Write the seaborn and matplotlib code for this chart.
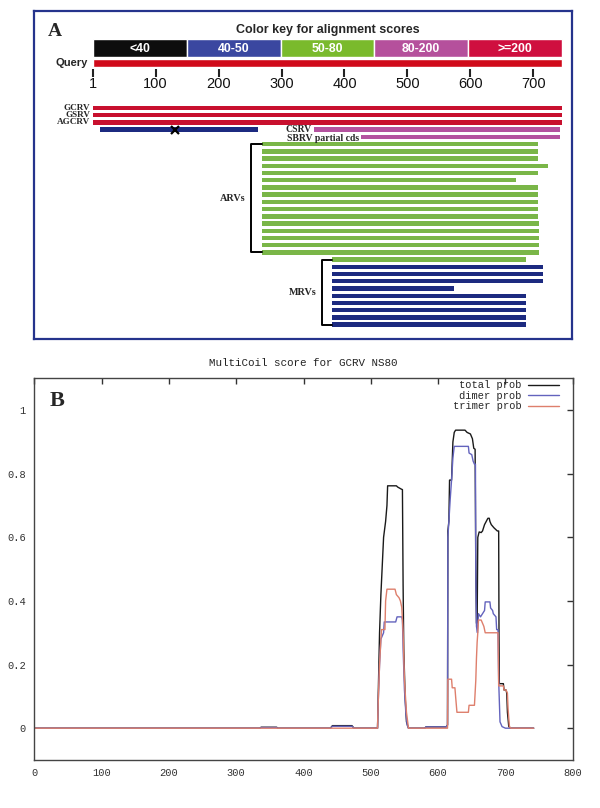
import numpy as np
import pandas as pd
import seaborn as sns
import matplotlib.pyplot as plt

# ---------------- panel A: alignment overview ----------------
query_len = 745
key_labels = ['<40', '40-50', '50-80', '80-200', '>=200']
key_colors = ['#0d0d0d', '#3a47a0', '#7aba2c', '#b5509c', '#cf0f3f']
scale_ticks = [1, 100, 200, 300, 400, 500, 600, 700]

hit_start = [1, 1, 1, 12, 352, 427] + [269] * 16 + [380] + [380] * 9
hit_end = [745, 745, 745, 262, 743, 743,
           708, 708, 708, 724, 708, 672, 708, 708,
           708, 708, 708, 709, 709, 709, 709, 709,
           689,
           715, 715, 715, 574, 689, 689, 689, 689, 689]
hit_score = ['>=200'] * 3 + ['40-50'] + ['80-200'] * 2 + ['50-80'] * 17 + ['40-50'] * 9
hit_colors = {'>=200': '#c8102e', '40-50': '#1c2a80', '80-200': '#b4529f', '50-80': '#7ab648'}
gap_pos = 130  # the "x" on the blue hit

# ---------------- panel B: MultiCoil scores ----------------
total_pos = [1, 335, 337, 360, 362, 440, 443, 472, 475, 510, 511, 513, 515, 517, 519, 522, 524, 525,
             538, 540, 545, 547, 548, 549, 551, 553, 556, 580, 582, 612, 614, 614.5, 616, 617, 620,
             622, 624, 626, 640, 643, 648, 651, 653, 655, 656, 657, 658, 659, 661, 664, 666, 669,
             672, 674, 676, 677, 679, 683, 688, 690, 690.5, 691, 697, 698, 701, 702, 703, 705, 708, 742]
total_prob = [0, 0, 0.003, 0.003, 0, 0, 0.008, 0.008, 0, 0, 0.1, 0.3, 0.42, 0.51, 0.6, 0.65, 0.7, 0.762,
              0.762, 0.758, 0.752, 0.75, 0.45, 0.25, 0.1, 0.02, 0, 0, 0.004, 0.004, 0.01, 0.62, 0.65, 0.78, 0.78,
              0.9, 0.93, 0.937, 0.937, 0.93, 0.925, 0.91, 0.88, 0.877, 0.5, 0.33, 0.33, 0.6, 0.617, 0.615, 0.62, 0.64,
              0.652, 0.66, 0.66, 0.65, 0.64, 0.63, 0.62, 0.62, 0.3, 0.14, 0.14, 0.12, 0.12, 0.11, 0.05, 0.005, 0, 0]

dimer_pos = [1, 335, 337, 360, 362, 440, 443, 472, 475, 510, 511, 513, 515, 517, 519, 520, 537, 539, 546,
             547, 548, 550, 552, 554, 556, 580, 582, 612, 614, 614.5, 616, 618, 620, 622, 624, 645, 646,
             650, 652, 654, 655.5, 656, 657, 658.5, 660, 663, 666, 669, 670, 677, 678, 681, 682, 686, 687,
             689, 690, 692, 695, 700, 742]
dimer_prob = [0, 0, 0.002, 0.002, 0, 0, 0.006, 0.006, 0, 0, 0.08, 0.2, 0.28, 0.29, 0.3, 0.334, 0.334, 0.35, 0.35,
              0.34, 0.25, 0.12, 0.05, 0.01, 0, 0, 0.004, 0.004, 0.01, 0.6, 0.65, 0.72, 0.78, 0.85, 0.886, 0.886, 0.865,
              0.86, 0.84, 0.83, 0.83, 0.5, 0.32, 0.3, 0.36, 0.35, 0.36, 0.37, 0.397, 0.397, 0.378, 0.37, 0.36, 0.35, 0.31,
              0.31, 0.15, 0.02, 0.005, 0, 0]

trimer_pos = [1, 510, 511, 513, 515, 516, 521, 522, 524, 536, 538, 542, 544, 546, 548, 550, 553, 556,
              614, 614.5, 620, 621, 625, 626, 628, 645, 646, 654, 656, 657, 658, 659, 660, 664, 668, 670,
              686, 689, 690, 697, 698, 701, 703, 704, 706, 708, 742]
trimer_prob = [0, 0, 0.08, 0.2, 0.28, 0.31, 0.31, 0.4, 0.437, 0.437, 0.42, 0.41, 0.4, 0.38, 0.3, 0.15, 0.05, 0,
               0, 0.154, 0.154, 0.127, 0.127, 0.1, 0.05, 0.05, 0.072, 0.072, 0.15, 0.22, 0.27, 0.3, 0.34, 0.34, 0.32, 0.3,
               0.3, 0.3, 0.133, 0.133, 0.12, 0.12, 0.11, 0.06, 0.005, 0, 0]

series_names = ['total prob', 'dimer prob', 'trimer prob']
series_colors = ['#1a1a1a', '#6363bd', '#de7f6c']

sns.set_style('white')
plt.rcParams['font.family'] = ['Liberation Sans', 'DejaVu Sans']

W, H = 600, 808
fig = plt.figure(figsize=(W / 100, H / 100), dpi=100)


def fig_rect(x0, y0, x1, y1):
    # pixel box -> figure fraction
    return [x0 / W, 1 - y1 / H, (x1 - x0) / W, (y1 - y0) / H]


def px2seq(px):
    # horizontal pixel -> residue number on the panel A ruler
    return 1 + (px - 93.3) / 0.6295


serif = ['Liberation Serif', 'DejaVu Serif']
mono = ['Liberation Mono', 'DejaVu Sans Mono']

# ---------- panel A ----------
ax_a = fig.add_axes(fig_rect(34, 11, 571.7, 339))
ax_a.set_xlim(px2seq(34), px2seq(571.7))
ax_a.set_ylim(339, 11)
ax_a.set_xticks([])
ax_a.set_yticks([])
for s in ax_a.spines.values():
    s.set_color('#25338c')
    s.set_linewidth(1.6)

ax_a.text(px2seq(48), 31, 'A', fontsize=14, fontweight='bold', family=serif, ha='left', va='center')
ax_a.text((1 + query_len) / 2, 30, 'Color key for alignment scores', fontsize=9,
          fontweight='bold', ha='center', va='center')

edges = np.linspace(1, query_len, len(key_labels) + 1)
ax_a.barh(47.9, np.diff(edges), left=edges[:-1], height=17.7, color=key_colors)
for lab, l, r in zip(key_labels, edges[:-1], edges[1:]):
    ax_a.text((l + r) / 2, 48.5, lab, color='white', ha='center', va='center',
              fontsize=8.8, fontweight='bold')
ax_a.barh(63.2, query_len - 1, left=1, height=8.3, color='#d00a1a')
ax_a.text(px2seq(88), 63.5, 'Query', ha='right', va='center', fontsize=8, fontweight='bold')
ax_a.vlines(scale_ticks, 69, 77, color='#222222', lw=1.5)
for t in scale_ticks:
    ax_a.text(t, 84.5, str(t), ha='center', va='center', fontsize=10.5, color='#111111')

rows = [0, 1, 2, 3, 3, 4] + list(range(5, 22)) + list(range(22, 31))
row_y = [108 + 7.22 * r for r in rows]
ax_a.barh(row_y, np.array(hit_end) - np.array(hit_start), left=hit_start, height=4.4,
          color=[hit_colors[s] for s in hit_score], lw=0)
ax_a.plot(gap_pos, row_y[3], marker='x', color='black', ms=6, mew=1.6)

lab_kw = dict(fontweight='bold', family=serif, va='center')
for name, i in [('GCRV', 0), ('GSRV', 1), ('AGCRV', 2)]:
    ax_a.text(px2seq(90.5), row_y[i], name, ha='right', fontsize=6.6, **lab_kw)
ax_a.text(px2seq(312), row_y[4] - 0.5, 'CSRV', ha='right', fontsize=7.0, **lab_kw)
ax_a.text(px2seq(359), row_y[5] + 1.5, 'SBRV partial cds', ha='right', fontsize=7.0, **lab_kw)

# brackets for the two virus groups
for first, last, xb, label in [(6, 21, 251, 'ARVs'), (22, 31, 321.7, 'MRVs')]:
    y0, y1 = row_y[first], row_y[last]
    ub, ue = px2seq(xb), hit_start[first]
    ax_a.plot([ue, ub, ub, ue], [y0, y0, y1, y1], color='black', lw=1.4)
    ax_a.text(px2seq(xb - 5), (y0 + y1) / 2, label, ha='right', fontsize=7.3, **lab_kw)

# ---------- panel B ----------
df = pd.concat([
    pd.DataFrame({'pos': total_pos, 'score': total_prob, 'kind': series_names[0]}),
    pd.DataFrame({'pos': dimer_pos, 'score': dimer_prob, 'kind': series_names[1]}),
    pd.DataFrame({'pos': trimer_pos, 'score': trimer_prob, 'kind': series_names[2]}),
], ignore_index=True)

ax_b = fig.add_axes(fig_rect(34.3, 378.3, 572.7, 760))
sns.lineplot(data=df, x='pos', y='score', hue='kind', hue_order=series_names,
             palette=series_colors, sort=False, estimator=None, lw=1.0, ax=ax_b)
ax_b.set_xlim(0, 800)
ax_b.set_ylim(-0.1, 1.1)
ax_b.set_xticks(range(0, 801, 100))
ax_b.set_yticks([0, 0.2, 0.4, 0.6, 0.8, 1])
ax_b.set_yticklabels(['0', '0.2', '0.4', '0.6', '0.8', '1'])
ax_b.set_xlabel('')
ax_b.set_ylabel('')
ax_b.tick_params(direction='in', top=True, right=True, length=4, width=1,
                 labelsize=7.5, pad=6, colors='#333333')
for lab in ax_b.get_xticklabels() + ax_b.get_yticklabels():
    lab.set_family(mono)
for s in ax_b.spines.values():
    s.set_color('#444444')
    s.set_linewidth(1.0)
ax_b.set_title('MultiCoil score for GCRV NS80', fontsize=7.8, family=mono, pad=9, color='#222222')
ax_b.text(0.042, 0.94, 'B', transform=ax_b.transAxes, fontsize=16, fontweight='bold',
          family=serif, ha='center', va='center')
ax_b.legend(loc='upper right', bbox_to_anchor=(0.975, 0.995), frameon=False, markerfirst=False,
            handlelength=3.0, handletextpad=0.6, labelspacing=0.05, borderpad=0, borderaxespad=0,
            prop={'family': mono, 'size': 7.5})

fig.savefig('out.png', dpi=100, facecolor='white')
